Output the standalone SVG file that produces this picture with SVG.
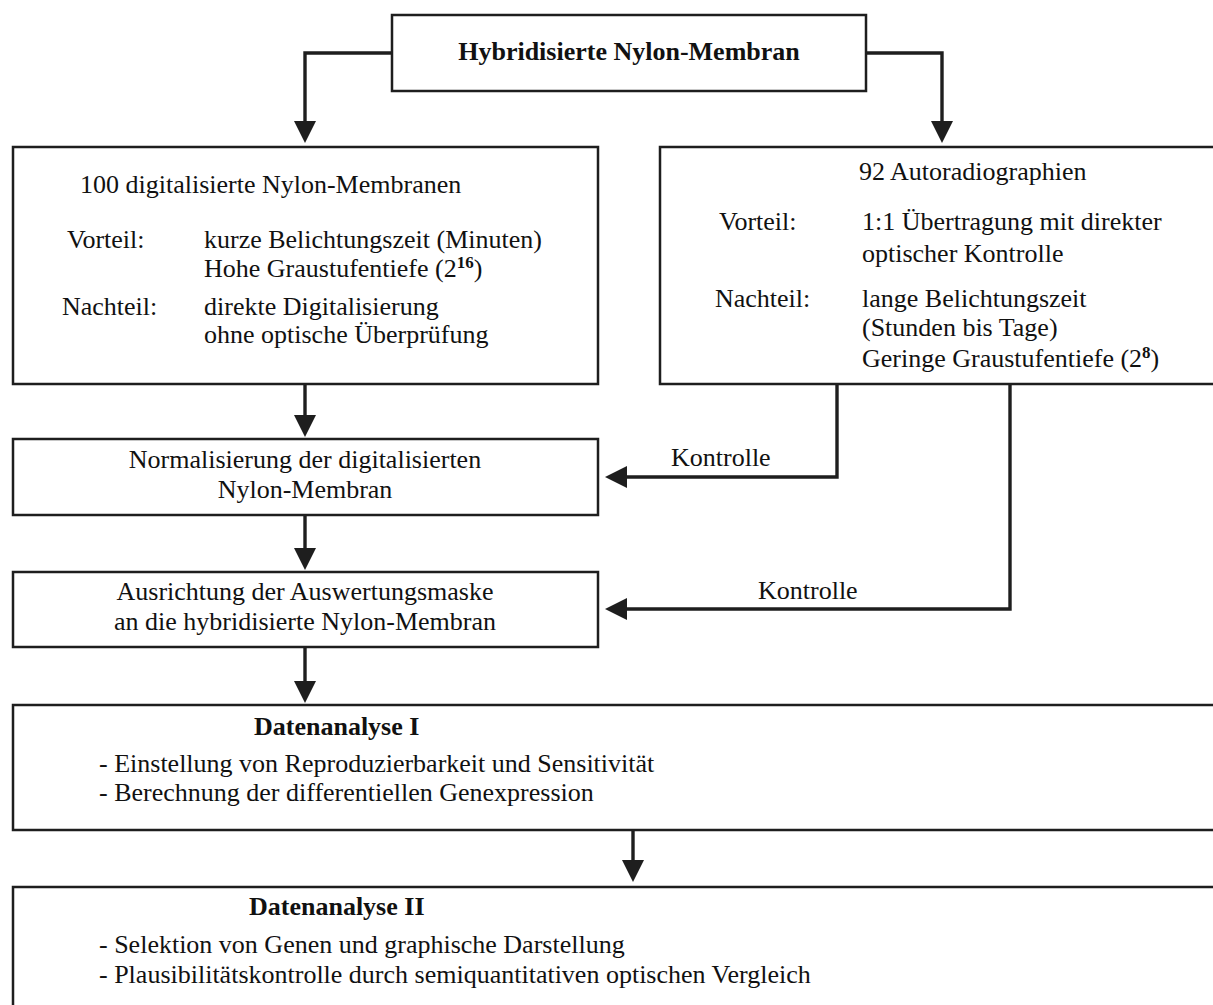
<svg xmlns="http://www.w3.org/2000/svg" width="1213" height="1005" viewBox="0 0 1213 1005">
<style>
  .box { fill: #ffffff; stroke: #1e1e1e; stroke-width: 2.5; }
  .con { fill: none; stroke: #1e1e1e; stroke-width: 3.4; }
  text { font-family: "Liberation Serif", "Times New Roman", serif; font-size: 26px; fill: #111111; }
  .b { font-weight: bold; }
  .c { text-anchor: middle; }
  .sup { font-weight: bold; font-size: 17px; }
</style>
<defs>
  <marker id="ah" viewBox="0 -11 22 22" refX="0" refY="0" markerWidth="22" markerHeight="22" markerUnits="userSpaceOnUse" orient="auto">
    <path d="M0,-11 L22,0 L0,11 Z" fill="#1e1e1e"/>
  </marker>
</defs>
<rect x="0" y="0" width="1213" height="1005" fill="#ffffff"/>

<g id="connectors">
  <path class="con" d="M392,53 H305 V121" marker-end="url(#ah)"/>
  <path class="con" d="M866,53 H942 V121" marker-end="url(#ah)"/>
  <path class="con" d="M305,384 V415" marker-end="url(#ah)"/>
  <path class="con" d="M837,384 V477 H627" marker-end="url(#ah)"/>
  <path class="con" d="M305,515 V548" marker-end="url(#ah)"/>
  <path class="con" d="M1010,384 V609 H627" marker-end="url(#ah)"/>
  <path class="con" d="M305,647 V681" marker-end="url(#ah)"/>
  <path class="con" d="M633,830 V860" marker-end="url(#ah)"/>
  <text x="671" y="466">Kontrolle</text>
  <text x="758" y="599">Kontrolle</text>
</g>

<g id="node-top">
  <rect class="box" x="392" y="15" width="474" height="76"/>
  <text class="b c" x="629" y="60">Hybridisierte Nylon-Membran</text>
</g>

<g id="node-left">
  <rect class="box" x="13" y="147" width="585" height="237"/>
  <text x="80" y="193">100 digitalisierte Nylon-Membranen</text>
  <text x="67" y="248">Vorteil:</text>
  <text x="204" y="248">kurze Belichtungszeit (Minuten)</text>
  <text x="204" y="277">Hohe Graustufentiefe (2<tspan class="sup" dy="-9">16</tspan><tspan dy="9">)</tspan></text>
  <text x="62" y="315">Nachteil:</text>
  <text x="204" y="315">direkte Digitalisierung</text>
  <text x="204" y="343">ohne optische Überprüfung</text>
</g>

<g id="node-right">
  <rect class="box" x="660" y="147" width="560" height="237"/>
  <text x="859" y="180">92 Autoradiographien</text>
  <text x="719" y="230">Vorteil:</text>
  <text x="862" y="230">1:1 Übertragung mit direkter</text>
  <text x="862" y="262">optischer Kontrolle</text>
  <text x="715" y="307">Nachteil:</text>
  <text x="862" y="307">lange Belichtungszeit</text>
  <text x="862" y="336">(Stunden bis Tage)</text>
  <text x="862" y="367">Geringe Graustufentiefe (2<tspan class="sup" dy="-9">8</tspan><tspan dy="9">)</tspan></text>
</g>

<g id="node-norm">
  <rect class="box" x="13" y="439" width="585" height="76"/>
  <text class="c" x="305" y="468">Normalisierung der digitalisierten</text>
  <text class="c" x="305" y="498">Nylon-Membran</text>
</g>

<g id="node-ausr">
  <rect class="box" x="13" y="572" width="585" height="75"/>
  <text class="c" x="305" y="600">Ausrichtung der Auswertungsmaske</text>
  <text class="c" x="305" y="630">an die hybridisierte Nylon-Membran</text>
</g>

<g id="node-d1">
  <rect class="box" x="13" y="705" width="1210" height="125"/>
  <text class="b" x="254" y="735">Datenanalyse I</text>
  <text x="99" y="772">- Einstellung von Reproduzierbarkeit und Sensitivität</text>
  <text x="99" y="801">- Berechnung der differentiellen Genexpression</text>
</g>

<g id="node-d2">
  <rect class="box" x="13" y="887" width="1210" height="130"/>
  <text class="b" x="249" y="915">Datenanalyse II</text>
  <text x="99" y="953">- Selektion von Genen und graphische Darstellung</text>
  <text x="99" y="983">- Plausibilitätskontrolle durch semiquantitativen optischen Vergleich</text>
</g>
</svg>
